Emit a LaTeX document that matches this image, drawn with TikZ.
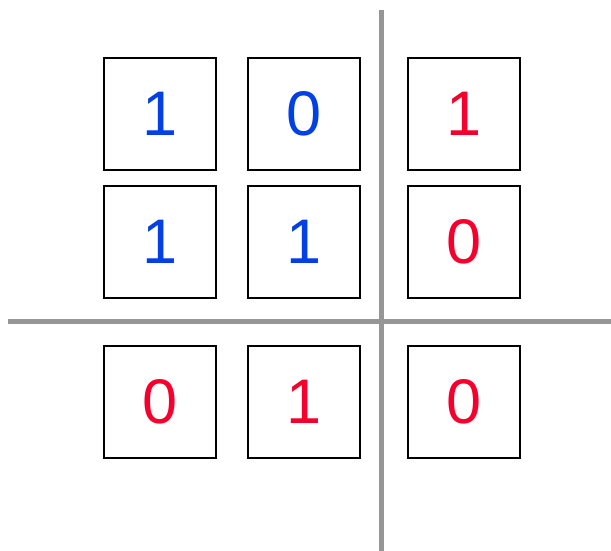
\documentclass[tikz,border=0pt]{standalone}
\usepackage{fontspec}
\setmainfont{Liberation Sans}
\definecolor{bitblue}{RGB}{0,64,228}
\definecolor{bitred}{RGB}{245,0,45}
\definecolor{splitgray}{RGB}{150,150,150}

\begin{document}
\begin{tikzpicture}[x=1pt, y=-1pt,
        cell/.style={draw=black, line width=2pt, minimum size=112pt, inner sep=0pt,
            font=\fontsize{63}{63}\selectfont},
        split/.style={draw=splitgray, line width=5pt}]
        \useasboundingbox (0,0) rectangle (611,551);

        \node[cell, text=bitblue] (a11) at (160,114) {1};
        \node[cell, text=bitblue] (a12) at (304,114) {0};
        \node[cell, text=bitred]  (a13) at (464,114) {1};

        \node[cell, text=bitblue] (a21) at (160,242) {1};
        \node[cell, text=bitblue] (a22) at (304,242) {1};
        \node[cell, text=bitred]  (a23) at (464,242) {0};

        \node[cell, text=bitred]  (a31) at (160,402) {0};
        \node[cell, text=bitred]  (a32) at (304,402) {1};
        \node[cell, text=bitred]  (a33) at (464,402) {0};

        \coordinate (vtop) at (381,10);
        \coordinate (vbot) at (381,551);
        \coordinate (hleft) at (8,321);
        \coordinate (hright) at (611,321);

        \draw[split] (vtop) -- (vbot);
        \draw[split] (hleft) -- (hright);
\end{tikzpicture}
\end{document}
